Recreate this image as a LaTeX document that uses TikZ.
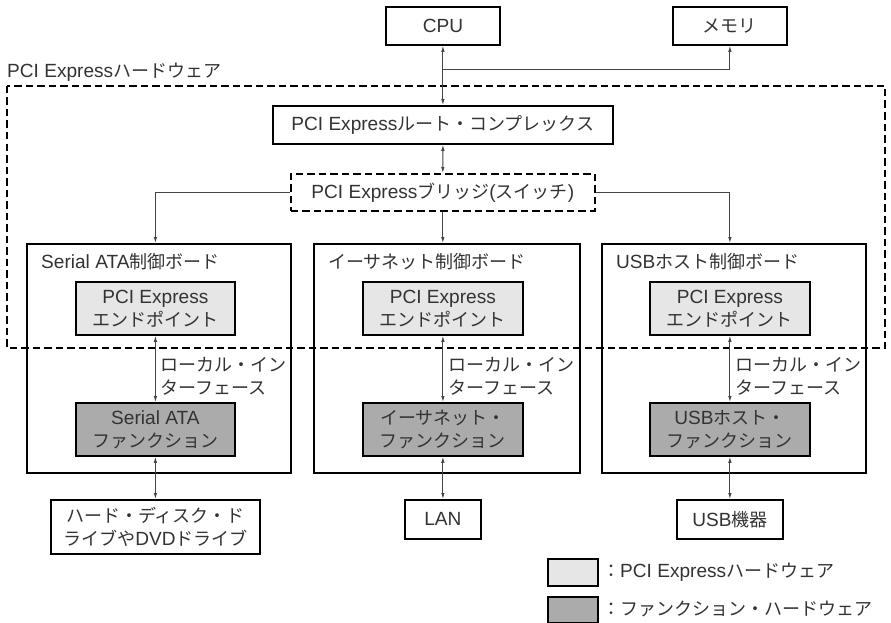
\documentclass[tikz,border=0pt]{standalone}
\usepackage{fontspec}
\setmainfont{Noto Sans CJK JP}
\newfontfamily\latf{Liberation Sans}[Scale=1.06]
\newcommand\la[1]{{\latf #1}}
\usetikzlibrary{arrows.meta}
\definecolor{eplight}{HTML}{E6E6E6}
\definecolor{fndark}{HTML}{ABABAB}
\definecolor{conn}{HTML}{444444}
\begin{document}
\begin{tikzpicture}[x=1pt,y=-1pt,
  every node/.style={font=\fontsize{18}{23}\selectfont, text=black!80},
  box/.style={draw, line width=1.8pt, inner sep=0pt, align=center, anchor=north west},
  board/.style={draw, line width=1.6pt, inner sep=0pt, anchor=north west},
  dbox/.style={box, line width=1.6pt, dash pattern=on 7.5pt off 4pt},
  ep/.style={box, fill=eplight},
  fn/.style={box, fill=fndark},
  lbl/.style={anchor=west, inner sep=0pt, align=left},
  cn/.style={draw=conn, line width=0.9pt},
  bi/.style={cn, {Latex[length=6pt,width=3.5pt]}-{Latex[length=6pt,width=3.5pt]}},
  one/.style={cn, -{Latex[length=6pt,width=3.5pt]}}
]
\useasboundingbox (0,0) rectangle (891,623);

% top
\node[box, minimum width=114pt, minimum height=38pt] (cpu) at (385,6) {\la{CPU}};
\node[box, minimum width=114pt, minimum height=38pt] (mem) at (672,6) {メモリ};

% hardware region
\node[lbl] (hwlbl) at (7,72) {\la{PCI Express}ハードウェア};
\draw[line width=1.6pt, dash pattern=on 7.5pt off 4pt] (7,86) rectangle (885,348);

\node[box, minimum width=340pt, minimum height=38pt] (root) at (272,105) {\la{PCI Express}ルート・コンプレックス};
\node[dbox, minimum width=304pt, minimum height=37pt] (bridge) at (290,173) {\la{PCI Express}ブリッジ\la{(}スイッチ\la{)}};

% boards
\node[board, minimum width=264pt, minimum height=229pt] (bsata) at (26,243) {};
\node[board, minimum width=266pt, minimum height=229pt] (beth) at (313,243) {};
\node[board, minimum width=264pt, minimum height=229pt] (busb) at (601,243) {};
\node[lbl] (lsata) at (41,262) {\la{Serial ATA}制御ボード};
\node[lbl] (leth) at (328,262) {イーサネット制御ボード};
\node[lbl] (lusb) at (616,262) {\la{USB}ホスト制御ボード};

% endpoints
\node[ep, minimum width=159pt, minimum height=53pt] (epsata) at (75,281) {\la{PCI Express}\\エンドポイント};
\node[ep, minimum width=160pt, minimum height=53pt] (epeth) at (362,281) {\la{PCI Express}\\エンドポイント};
\node[ep, minimum width=160pt, minimum height=53pt] (epusb) at (649,281) {\la{PCI Express}\\エンドポイント};

% functions
\node[fn, minimum width=159pt, minimum height=53pt] (fnsata) at (75,402) {\la{Serial ATA}\\ファンクション};
\node[fn, minimum width=160pt, minimum height=53pt] (fneth) at (362,402) {イーサネット・\\ファンクション};
\node[fn, minimum width=160pt, minimum height=53pt] (fnusb) at (649,402) {\la{USB}ホスト・\\ファンクション};

% local interface labels
\node[lbl] (li1) at (160,376) {ローカル・イン\\ターフェース};
\node[lbl] (li2) at (448,376) {ローカル・イン\\ターフェース};
\node[lbl] (li3) at (735,376) {ローカル・イン\\ターフェース};

% external devices
\node[box, minimum width=209pt, minimum height=54pt] (hdd) at (50,499) {ハード・ディスク・ド\\ライブや\la{DVD}ドライブ};
\node[box, minimum width=76pt, minimum height=39pt] (lan) at (404,499) {\la{LAN}};
\node[box, minimum width=106pt, minimum height=39pt] (usbdev) at (676,499) {\la{USB}機器};

% legend
\node[box, fill=eplight, line width=1.6pt, minimum width=50pt, minimum height=27pt] (leg1) at (547,558) {};
\node[box, fill=fndark, line width=1.6pt, minimum width=50pt, minimum height=26pt] (leg2) at (547,596) {};
\node[lbl] (leg1t) at (602,572) {：\la{PCI Express}ハードウェア};
\node[lbl] (leg2t) at (602,609) {：ファンクション・ハードウェア};

% connectors
\coordinate (j) at (442,69);
\draw[bi] (cpu.south) -- (root.north);
\draw[one] (j) -| (mem.south);
\draw[bi] (root.south) -- (bridge.north);
\draw[one] (bridge.west) -| (bsata.north -| epsata.north);
\draw[one] (bridge.east) -| (busb.north -| epusb.north);
\draw[one] (bridge.south) -- (bridge.south |- beth.north);

\draw[bi] (epsata.south) -- (fnsata.north);
\draw[bi] (epeth.south) -- (fneth.north);
\draw[bi] (epusb.south) -- (fnusb.north);

\draw[bi] (fnsata.south) -- (hdd.north);
\draw[bi] (fneth.south) -- (lan.north);
\draw[bi] (fnusb.south) -- (usbdev.north);
\end{tikzpicture}
\end{document}
